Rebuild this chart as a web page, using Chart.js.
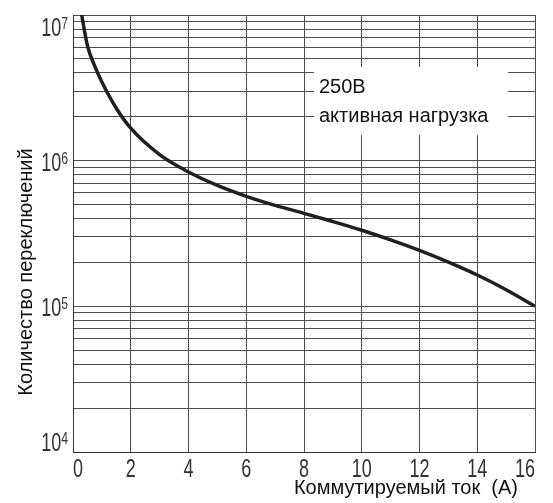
<!DOCTYPE html>
<html>
<head>
<meta charset="utf-8">
<script src="https://cdn.jsdelivr.net/npm/chart.js@4/dist/chart.umd.min.js"></script>
<style>
    html, body { margin: 0; padding: 0; background: #fff; }
</style>
</head>
<body>
<canvas id="chart" width="553" height="503"></canvas>
<script>
// Data (250V, resistive load)
const currentA = [0.3, 0.5, 0.75, 1, 1.5, 2, 3, 4, 5, 6, 7, 8, 9, 10, 11, 12, 13, 14, 15, 16];
const switchCycles = [1e7, 6.17e6, 4.47e6, 3.47e6, 2.29e6, 1.67e6, 1.1e6, 8.36e5, 6.76e5, 5.69e5,
    4.93e5, 4.35e5, 3.82e5, 3.33e5, 2.86e5, 2.42e5, 2.01e5, 1.64e5, 1.3e5, 1.0e5];

// Axis setup
const xMin = 0, xMax = 16, xStep = 2;
const yDecades = [1e4, 1e5, 1e6];
const yMultipliers = [1, 2, 3, 4, 5, 6, 7, 8, 9];
const yTop = 1e7;
const yLabelBase = '10';
const yLabelExponents = ['4', '5', '6', '7'];
const yLabelValues = [1e4, 1e5, 1e6, 1e7];

const xTitle = 'Коммутируемый ток  (A)';
const yTitle = 'Количество переключений';
const noteLines = ['250В', 'активная нагрузка'];

const plainFont = '"Liberation Sans", Arial, sans-serif';
const gridColor = '#4d4d4d';
const squeeze = 0.72; // tick digits are a condensed face in the original

// every log gridline: 1..9 per decade, plus the top
const yGridValues = [];
yDecades.forEach(d => yMultipliers.forEach(m => yGridValues.push(m * d)));
yGridValues.push(yTop);

function drawNarrow(ctx, text, x, y, size, align) {
    ctx.save();
    ctx.translate(x, y);
    ctx.scale(squeeze, 1);
    ctx.font = size + 'px ' + plainFont;
    ctx.textAlign = align;
    ctx.textBaseline = 'alphabetic';
    ctx.fillText(text, 0, 0);
    ctx.restore();
}

function narrowWidth(ctx, text, size) {
    ctx.save();
    ctx.font = size + 'px ' + plainFont;
    const w = ctx.measureText(text).width * squeeze;
    ctx.restore();
    return w;
}

// text that chart.js cannot lay out itself (superscripts, note box, titles)
const textPlugin = {
    id: 'textPlugin',
    beforeDatasetsDraw(chart) {
        const ctx = chart.ctx;
        ctx.save();
        ctx.fillStyle = '#fff';
        ctx.fillRect(314, 67, 194, 68);
        ctx.fillStyle = '#111';
        ctx.font = '20px ' + plainFont;
        ctx.textBaseline = 'alphabetic';
        ctx.textAlign = 'left';
        ctx.fillText(noteLines[0], 319, 93);
        ctx.fillText(noteLines[1], 319, 122);
        ctx.restore();
    },
    afterDraw(chart) {
        const ctx = chart.ctx;
        const xScale = chart.scales.x;
        const yScale = chart.scales.y;
        const area = chart.chartArea;
        ctx.save();
        ctx.fillStyle = '#333';

        // y labels 10^n
        yLabelValues.forEach((v, i) => {
            const py = yScale.getPixelForValue(v);
            let base = py + 10;
            if (base - 18 < area.top + 3) base = area.top + 21;
            if (base > area.bottom) base = area.bottom - 1;
            const expW = narrowWidth(ctx, yLabelExponents[i], 17);
            drawNarrow(ctx, yLabelExponents[i], 68, base - 7, 17, 'right');
            drawNarrow(ctx, yLabelBase, 68 - expW, base, 25, 'right');
        });

        // x labels, edge ones kept inside the plot
        const xt = xScale.ticks;
        xt.forEach((t, i) => {
            const px = xScale.getPixelForValue(t.value);
            let align = 'center';
            if (i === 0) align = 'left';
            if (i === xt.length - 1) align = 'right';
            drawNarrow(ctx, String(t.value), px, 477, 25, align);
        });

        ctx.fillStyle = '#111';
        ctx.font = '20px ' + plainFont;
        ctx.textAlign = 'right';
        ctx.textBaseline = 'alphabetic';
        ctx.fillText(xTitle, 518, 494);

        ctx.translate(32, 272);
        ctx.rotate(-Math.PI / 2);
        ctx.textAlign = 'center';
        ctx.fillText(yTitle, 0, 0);
        ctx.restore();
    }
};

const ctx = document.getElementById('chart').getContext('2d');
new Chart(ctx, {
    type: 'line',
    data: {
        datasets: [{
            data: currentA.map((x, i) => ({ x: x, y: switchCycles[i] })),
            borderColor: '#231f20',
            borderWidth: 3.5,
            pointRadius: 0,
            cubicInterpolationMode: 'monotone',
            fill: false
        }]
    },
    options: {
        responsive: false,
        animation: false,
        layout: { padding: { top: 15, right: 18, left: 0, bottom: 0 } },
        plugins: {
            legend: { display: false },
            tooltip: { enabled: false }
        },
        scales: {
            x: {
                type: 'linear',
                min: xMin,
                max: xMax,
                ticks: { stepSize: xStep, display: false },
                grid: { color: gridColor, lineWidth: 1, drawTicks: false },
                border: { color: '#333', width: 1 },
                afterFit: (s) => { s.height = 51; }
            },
            y: {
                type: 'logarithmic',
                min: yDecades[0],
                max: yTop,
                ticks: { display: false },
                afterBuildTicks: (s) => { s.ticks = yGridValues.map(v => ({ value: v })); },
                grid: { color: gridColor, lineWidth: 1, drawTicks: false },
                border: { color: '#333', width: 1 },
                afterFit: (s) => { s.width = 73; }
            }
        }
    },
    plugins: [textPlugin]
});
</script>
</body>
</html>
